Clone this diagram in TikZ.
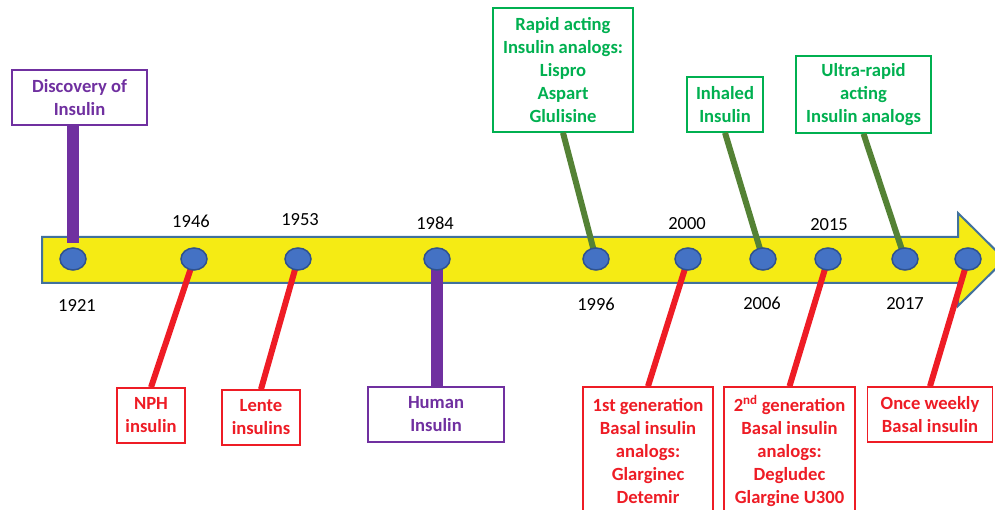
\documentclass[tikz,border=0pt]{standalone}
\usepackage{fontspec}
\setmainfont{Carlito}
\usetikzlibrary{shapes.geometric}
\usetikzlibrary{calc}

\definecolor{bandyellow}{HTML}{F5EB14}
\definecolor{bandblue}{HTML}{41719C}
\definecolor{dotfill}{HTML}{4472C4}
\definecolor{dotline}{HTML}{2F528F}
\definecolor{evpurple}{HTML}{7030A0}
\definecolor{evred}{HTML}{EE1C25}
\definecolor{evgreen}{HTML}{00B050}
\definecolor{stemgreen}{HTML}{548235}

\begin{document}
\begin{tikzpicture}[x=1pt, y=-1pt,
    dot/.style={ellipse, draw=dotline, fill=dotfill, line width=1.5pt, minimum width=26pt, minimum height=22pt, inner sep=0pt},
    year/.style={inner sep=0pt, font=\fontsize{18.5}{21}\selectfont},
    event/.style={draw, line width=1.5pt, fill=white, align=center, inner sep=0pt, font=\bfseries\fontsize{18.6}{23}\selectfont},
    purplebox/.style={event, draw=evpurple, text=evpurple},
    redbox/.style={event, draw=evred, text=evred},
    greenbox/.style={event, draw=evgreen, text=evgreen}]

        \useasboundingbox (0,0) rectangle (995,510);
        \clip (0,0) rectangle (995,510);

        \def\bandtop{237} % upper edge of the arrow body
        \def\bandbot{283} % lower edge of the arrow body

        % the time arrow
        \draw[bandblue, fill=bandyellow, line width=2pt, line join=miter]
          (42,\bandtop) -- (958,\bandtop) -- (958,213) -- (1005,259.5) -- (958,306)
          -- (958,\bandbot) -- (42,\bandbot) -- cycle;

        % boxes above the arrow
        \node[purplebox, minimum width=135pt, minimum height=55pt] (discovery) at (79.5,97.5) {Discovery of\\Insulin};
        \node[greenbox, minimum width=140pt, minimum height=124pt] (rapid) at (563,70) {Rapid acting\\Insulin analogs:\\Lispro\\Aspart\\Glulisine};
        \node[greenbox, minimum width=76pt, minimum height=55pt] (inhaled) at (725,104.5) {Inhaled\\Insulin};
        \node[greenbox, minimum width=135pt, minimum height=77pt] (ultra) at (863.5,94.5) {Ultra-rapid\\acting\\Insulin analogs};

        % boxes below the arrow
        \node[redbox, minimum width=68pt, minimum height=55pt] (nph) at (151,415.5) {NPH\\insulin};
        \node[redbox, minimum width=78pt, minimum height=55pt] (lente) at (261,417.5) {Lente\\insulins};
        \node[purplebox, minimum width=136pt, minimum height=55pt] (human) at (436,414.5) {Human\\Insulin};
        \node[redbox, minimum width=130pt, minimum height=128pt] (basalone) at (648,451) {1st generation\\Basal insulin\\analogs:\\Glarginec\\Detemir};
        \node[redbox, minimum width=131pt, minimum height=128pt] (basaltwo) at (789.5,451) {2\textsuperscript{nd} generation\\Basal insulin\\analogs:\\Degludec\\Glargine U300};
        \node[redbox, minimum width=125pt, minimum height=55pt] (weekly) at (930,414.5) {Once weekly\\Basal insulin};

        % stems
        \draw[evpurple, line width=12pt] (discovery.south -| 73,0) -- (73,243);
        \draw[evpurple, line width=12pt] (437,262) -- (human.north -| 437,0);
        \draw[stemgreen, line width=6pt] (rapid.south) -- (596,259);
        \draw[stemgreen, line width=6pt] (inhaled.south) -- (763,259);
        \draw[stemgreen, line width=6pt] (ultra.south) -- (905,259);
        \draw[evred, line width=6pt] (194,259) -- (nph.north);
        \draw[evred, line width=6pt] (298,259) -- (lente.north);
        \draw[evred, line width=6pt] (688,259) -- (basalone.north);
        \draw[evred, line width=6pt] (828,259) -- (basaltwo.north);
        \draw[evred, line width=6pt] (968,259) -- (weekly.north);

        % dots on the arrow
        \foreach \n/\x in {1/73, 2/194, 3/298, 4/437, 5/596, 6/688, 7/763, 8/828, 9/905, 10/968} {
          \node[dot] (d\n) at (\x,259) {};
        }

        % years
        \foreach \n/\yr/\x/\y in {1/1921/77/305, 2/1946/191/221, 3/1953/300/220, 4/1984/435/223,
                                  5/1996/596/304, 6/2000/687/224, 7/2006/762/303, 8/2015/829/225, 9/2017/905/304} {
          \node[year] (y\n) at (\x,\y) {\yr};
        }

      \end{tikzpicture}
\end{document}
